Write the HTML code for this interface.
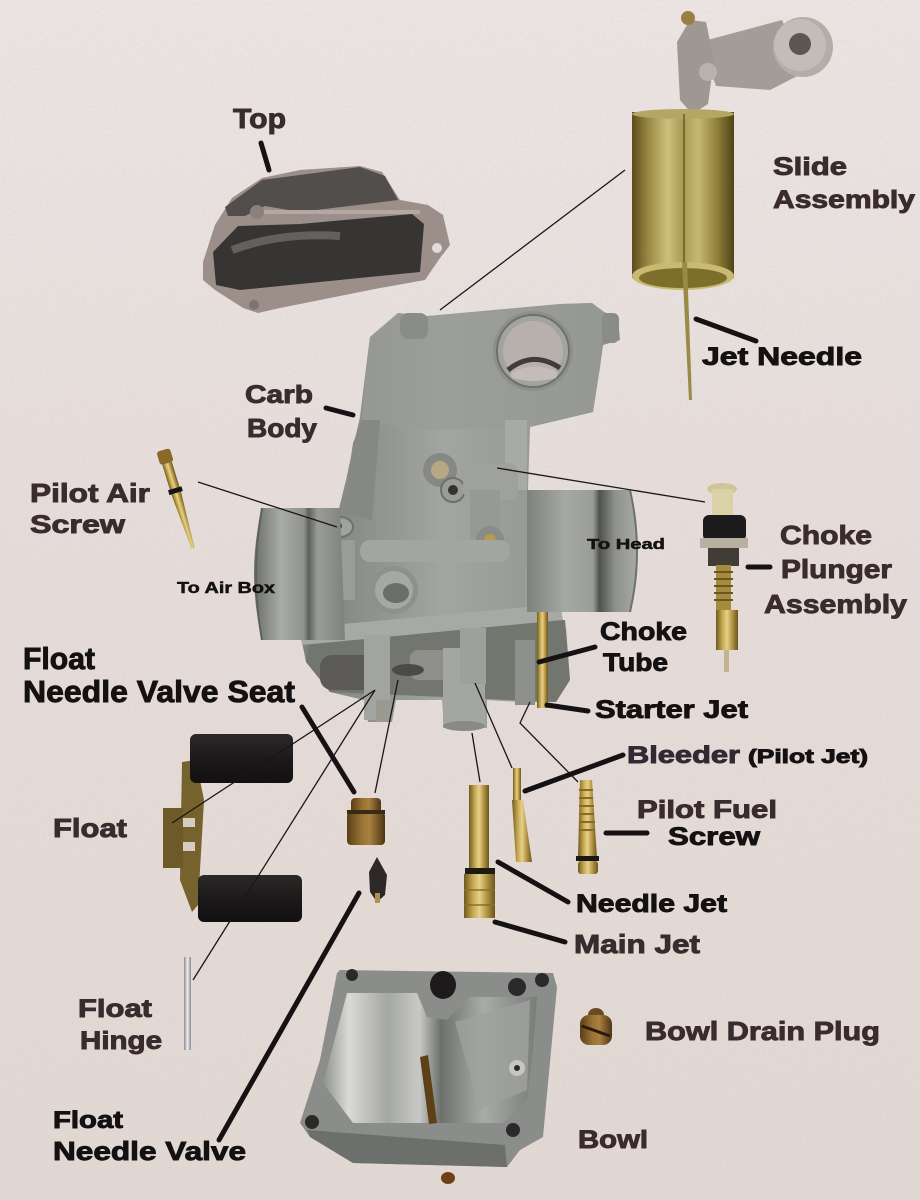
<!DOCTYPE html>
<html><head><meta charset="utf-8"><style>
html,body{margin:0;padding:0;background:#e8dfdc;}
svg{display:block;}
.t{font-family:"Liberation Sans",Arial,sans-serif;font-weight:bold;fill:#2c2224;stroke:#2c2224;stroke-width:0.9;}
.k{fill:#141112;stroke:#141112;}
.b{fill:#3a2b2e;stroke:#3a2b2e;}
.thin{stroke:#1a1616;stroke-width:1.3;fill:none;}
.thick{stroke:#161213;stroke-width:5;stroke-linecap:round;fill:none;}
</style></head><body>
<svg width="920" height="1200" viewBox="0 0 920 1200" xmlns="http://www.w3.org/2000/svg">
<defs>
<linearGradient id="bg" x1="0" y1="0" x2="0" y2="1"><stop offset="0" stop-color="#ede7e5"/><stop offset="0.5" stop-color="#e7dedb"/><stop offset="1" stop-color="#e4dad5"/></linearGradient>
<filter id="tex" x="0" y="0" width="100%" height="100%"><feTurbulence type="fractalNoise" baseFrequency="0.35" numOctaves="2" seed="3"/><feColorMatrix values="0 0 0 0 0.55  0 0 0 0 0.47  0 0 0 0 0.45  0 0 0 0.35 0"/></filter>
<linearGradient id="slide" x1="0" x2="1"><stop offset="0" stop-color="#5a4c1c"/><stop offset="0.15" stop-color="#978641"/><stop offset="0.35" stop-color="#cdbf7c"/><stop offset="0.5" stop-color="#a99a55"/><stop offset="0.65" stop-color="#c6b874"/><stop offset="0.85" stop-color="#8a7a36"/><stop offset="1" stop-color="#4e4318"/></linearGradient>
<linearGradient id="brass" x1="0" x2="1"><stop offset="0" stop-color="#6e5a1e"/><stop offset="0.3" stop-color="#c8ab52"/><stop offset="0.5" stop-color="#e6d18a"/><stop offset="0.75" stop-color="#b09040"/><stop offset="1" stop-color="#6a561c"/></linearGradient>
<linearGradient id="dbrass" x1="0" x2="1"><stop offset="0" stop-color="#5a3e18"/><stop offset="0.4" stop-color="#9a7434"/><stop offset="0.6" stop-color="#a88040"/><stop offset="1" stop-color="#4e3414"/></linearGradient>
<linearGradient id="body" x1="0" x2="1"><stop offset="0" stop-color="#7c7e7a"/><stop offset="0.45" stop-color="#a3a5a1"/><stop offset="1" stop-color="#8b8d89"/></linearGradient>
<linearGradient id="drumL" x1="0" x2="1"><stop offset="0" stop-color="#6c6e6a"/><stop offset="0.3" stop-color="#a9aba7"/><stop offset="0.55" stop-color="#8f918d"/><stop offset="0.6" stop-color="#5e605c"/><stop offset="0.7" stop-color="#9a9c98"/><stop offset="1" stop-color="#7f817d"/></linearGradient>
<linearGradient id="drumR" x1="0" x2="1"><stop offset="0" stop-color="#7f817d"/><stop offset="0.35" stop-color="#a6a8a4"/><stop offset="0.6" stop-color="#9a9c98"/><stop offset="0.66" stop-color="#4f514d"/><stop offset="0.8" stop-color="#8e908c"/><stop offset="1" stop-color="#a8aaa6"/></linearGradient>
<linearGradient id="flt" x1="0" y1="0" x2="0" y2="1"><stop offset="0" stop-color="#2c2929"/><stop offset="0.5" stop-color="#1b1919"/><stop offset="1" stop-color="#121010"/></linearGradient>
<linearGradient id="silver" x1="0" x2="1"><stop offset="0" stop-color="#8c8a8c"/><stop offset="0.5" stop-color="#f0eef0"/><stop offset="1" stop-color="#8a888a"/></linearGradient>
<linearGradient id="bowlin" x1="0" x2="1"><stop offset="0" stop-color="#8f918f"/><stop offset="0.12" stop-color="#d9dad8"/><stop offset="0.3" stop-color="#a5a7a5"/><stop offset="0.45" stop-color="#c8c9c7"/><stop offset="0.55" stop-color="#6e706e"/><stop offset="0.75" stop-color="#a9aba9"/><stop offset="1" stop-color="#7a7c7a"/></linearGradient>
</defs>

<!-- background -->
<rect width="920" height="1200" fill="url(#bg)"/>
<rect width="920" height="1200" filter="url(#tex)" opacity="0.5"/>

<!-- ===== TOP COVER ===== -->
<polygon points="203,262 215,225 232,198 262,178 300,170 360,166 382,172 400,200 428,205 443,215 450,245 440,258 425,280 380,288 280,308 258,313 243,308 215,290 203,280" fill="#9c8f89"/>
<polygon points="225,207 262,180 360,167 385,176 398,200 300,212 265,206 245,216 228,216" fill="#524e4c"/>
<polygon points="213,252 238,226 300,224 412,214 424,224 420,272 240,290 216,285" fill="#373434"/>
<path d="M232,250 Q280,232 340,236" stroke="#6f6b69" stroke-width="8" fill="none" opacity="0.8"/>
<path d="M262,212 L420,212" stroke="#b5a8a2" stroke-width="4"/>
<circle cx="257" cy="212" r="7" fill="#8a807c"/>
<circle cx="437" cy="248" r="5" fill="#e2dcd8"/>
<circle cx="254" cy="305" r="5" fill="#7a7472"/>

<!-- ===== SLIDE ASSEMBLY ===== -->
<polygon points="700,42 782,20 805,72 770,90 716,86" fill="#a29d96"/>
<polygon points="677,42 690,20 706,22 714,60 708,104 692,114 680,100" fill="#9d9891"/>
<circle cx="803" cy="47" r="30" fill="#b3aea8"/>
<circle cx="800" cy="45" r="26" fill="#c2bdb7"/>
<circle cx="800" cy="44" r="11" fill="#5c5754"/>
<circle cx="708" cy="72" r="9" fill="#b8b3ad"/>
<circle cx="688" cy="18" r="7" fill="#9a8040"/>
<rect x="632" y="112" width="102" height="166" fill="url(#slide)"/>
<ellipse cx="683" cy="114" rx="51" ry="5" fill="#b4a766"/>
<ellipse cx="683" cy="276" rx="51" ry="14" fill="#c9ba72"/>
<ellipse cx="683" cy="278" rx="44" ry="10" fill="#7e6e2c"/>
<line x1="684" y1="114" x2="684" y2="262" stroke="#6a5c24" stroke-width="1.5"/>
<polygon points="682,262 687,262 692,400 689,400" fill="#9a8a48"/>

<!-- ===== CARB BODY ===== -->
<polygon points="370,337 398,313 428,316 560,304 592,303 604,312 618,318 620,340 603,345 600,367 593,412 530,427 528,490 530,612 560,616 566,628 570,680 556,702 520,702 487,700 487,728 444,728 442,700 396,700 392,722 368,722 364,700 330,692 306,662 300,632 330,612 338,513 346,480 354,443 360,417 366,368" fill="url(#body)"/>
<polygon points="370,337 398,313 428,316 560,304 592,303 604,312 600,367 593,412 530,427 420,430 362,420 366,368" fill="#999b97" opacity="0.7"/>
<polygon points="343,513 353,443 362,420 380,420 372,520" fill="#868884"/>
<rect x="400" y="313" width="28" height="26" rx="8" fill="#8a8c88"/>
<rect x="602" y="313" width="17" height="30" rx="6" fill="#8a8c88"/>
<circle cx="533" cy="351" r="40" fill="#8d8f8b"/>
<circle cx="533" cy="351" r="36" fill="#a2a4a0" stroke="#6f716d" stroke-width="2"/>
<circle cx="533" cy="351" r="30" fill="#b8b0ad"/>
<path d="M508,370 Q533,350 560,368" stroke="#3f3d3c" stroke-width="5" fill="none"/>
<path d="M510,374 Q533,360 558,372 L556,378 Q533,384 512,378 Z" fill="#c4bcb9"/>
<rect x="505" y="420" width="22" height="70" fill="#a8aaa6"/>
<circle cx="440" cy="470" r="17" fill="#868884"/>
<circle cx="440" cy="470" r="9" fill="#b5a883"/>
<circle cx="453" cy="490" r="12" fill="#9a9c98" stroke="#6e706c" stroke-width="2"/>
<circle cx="453" cy="490" r="5" fill="#333"/>
<rect x="463" y="463" width="55" height="37" rx="10" fill="#9fa19d"/>
<rect x="470" y="490" width="30" height="60" fill="#979995"/>
<circle cx="490" cy="540" r="14" fill="#8a8c88"/>
<circle cx="490" cy="540" r="6" fill="#b89a50"/>
<ellipse cx="340" cy="527" rx="13" ry="10" fill="#a0a29e" stroke="#6f716d" stroke-width="2"/>
<ellipse cx="337" cy="526" rx="5" ry="4" fill="#3a3a38"/>
<rect x="330" y="540" width="25" height="60" fill="#9a9c98"/>
<rect x="360" y="540" width="150" height="22" rx="10" fill="#a3a5a1"/>
<circle cx="394" cy="590" r="24" fill="#8e908c"/>
<circle cx="394" cy="590" r="19" fill="#a6a8a4"/>
<ellipse cx="396" cy="593" rx="13" ry="10" fill="#6b6d69"/>
<rect x="525" y="570" width="35" height="50" fill="#9d9f9b"/>
<polygon points="310,632 565,620 570,680 556,702 330,692 306,662" fill="#73756f"/>
<polygon points="300,628 560,604 563,620 302,645" fill="#a7a9a5"/>
<rect x="320" y="655" width="55" height="35" rx="12" fill="#5c5a58"/>
<rect x="410" y="650" width="40" height="30" rx="8" fill="#8e8f8b"/>
<ellipse cx="408" cy="670" rx="16" ry="6" fill="#4b4a48"/>
<rect x="364" y="635" width="26" height="85" fill="#a2a4a0"/>
<rect x="376" y="700" width="14" height="22" fill="#9a9a90"/>
<rect x="443" y="648" width="42" height="80" fill="#a4a6a2"/>
<ellipse cx="464" cy="726" rx="21" ry="5" fill="#888a86"/>
<rect x="460" y="628" width="26" height="56" fill="#9ea09c"/>
<rect x="515" y="640" width="20" height="65" fill="#8d8f8b"/>
<rect x="537" y="608" width="11" height="100" fill="url(#brass)"/>
<path d="M262,508 L340,508 L345,640 L262,640 Q246,574 262,508 Z" fill="url(#drumL)"/>
<path d="M262,508 Q250,574 262,640" stroke="#5f615d" stroke-width="2" fill="none"/>
<path d="M527,490 L630,490 Q644,552 630,612 L527,612 Z" fill="url(#drumR)"/>
<path d="M630,490 Q644,552 630,612" stroke="#6f716d" stroke-width="2" fill="none"/>

<!-- ===== PILOT AIR SCREW ===== -->
<g transform="translate(163,450) rotate(-17)">
<rect x="-7" y="0" width="14" height="14" rx="3" fill="#8a6a28"/>
<rect x="-5" y="14" width="10" height="27" fill="url(#brass)"/>
<rect x="-7" y="40" width="14" height="5" fill="#151515"/>
<polygon points="-5,45 5,45 1.5,103 -1.5,103" fill="url(#brass)"/>
</g>

<!-- ===== CHOKE PLUNGER ===== -->
<ellipse cx="722" cy="489" rx="15" ry="6" fill="#cfc49a"/>
<rect x="712" y="489" width="21" height="28" fill="#dad1a6"/>
<rect x="703" y="515" width="43" height="26" rx="6" fill="#1d1b1b"/>
<rect x="700" y="538" width="48" height="10" fill="#b8b0a0"/>
<rect x="708" y="548" width="31" height="18" fill="#3f3d36"/>
<rect x="716" y="565" width="15" height="48" fill="#a48c3c"/>
<path d="M714,572 h19 M714,579 h19 M714,586 h19 M714,593 h19 M714,600 h19" stroke="#6a5620" stroke-width="2"/>
<rect x="716" y="610" width="22" height="40" fill="url(#brass)"/>
<rect x="724" y="650" width="5" height="22" fill="#c2b490"/>

<!-- ===== FLOATS ===== -->
<polygon points="182,762 196,760 204,800 198,905 192,912 180,880" fill="#76622c"/>
<rect x="163" y="808" width="20" height="60" fill="#6d5a28"/>
<rect x="183" y="818" width="12" height="9" fill="#d7ccc0"/>
<rect x="183" y="842" width="12" height="9" fill="#d7ccc0"/>
<rect x="190" y="734" width="103" height="49" rx="6" fill="url(#flt)"/>
<rect x="198" y="875" width="104" height="47" rx="6" fill="url(#flt)"/>

<!-- valve seat & needle -->
<rect x="351" y="798" width="30" height="16" rx="4" fill="url(#dbrass)"/>
<rect x="347" y="812" width="38" height="33" rx="4" fill="url(#dbrass)"/>
<rect x="347" y="810" width="38" height="4" fill="#3a2a14"/>
<polygon points="377,857 387,875 385,895 377,902 370,892 369,872" fill="#2e2828"/>
<rect x="375" y="893" width="5" height="10" fill="#b09050"/>

<!-- float hinge -->
<rect x="184" y="957" width="7" height="93" fill="url(#silver)"/>

<!-- ===== JETS ===== -->
<rect x="469" y="785" width="20" height="87" fill="url(#brass)"/>
<rect x="465" y="868" width="30" height="6" fill="#1e1a14"/>
<rect x="464" y="874" width="31" height="44" fill="url(#brass)"/>
<path d="M464,890 h31 M464,905 h31" stroke="#8a6f28" stroke-width="1.5"/>
<rect x="513" y="768" width="8" height="34" fill="url(#brass)"/>
<polygon points="512,800 523,800 532,862 516,862" fill="url(#brass)"/>
<polygon points="580,780 592,780 597,858 578,858" fill="url(#brass)"/>
<path d="M579,790 h14 M579,798 h14 M579,806 h15 M579,814 h15 M579,822 h16 M579,830 h16" stroke="#8a6a20" stroke-width="2"/>
<rect x="576" y="856" width="23" height="5" fill="#1a1714"/>
<rect x="578" y="861" width="20" height="13" rx="3" fill="url(#brass)"/>

<!-- ===== BOWL ===== -->
<polygon points="337,973 340,970 553,973 557,987 543,1137 520,1150 507,1167 353,1163 310,1137 300,1123 320,1060" fill="#8b8d8b"/>
<polygon points="307,1130 505,1145 507,1167 353,1163 310,1137" fill="#6d6f6d"/>
<polygon points="347,993 417,993 427,1017 447,1020 470,997 537,997 533,1050 527,1100 503,1123 353,1123 323,1083" fill="url(#bowlin)"/>
<polygon points="455,1022 530,1000 527,1090 480,1110" fill="#9fa19f" opacity="0.8"/>
<circle cx="352" cy="975" r="6" fill="#2a2a2a"/>
<ellipse cx="443" cy="985" rx="13" ry="14" fill="#1c1a1a"/>
<circle cx="517" cy="987" r="9" fill="#2a2a2a"/>
<circle cx="542" cy="980" r="7" fill="#2a2a2a"/>
<circle cx="312" cy="1122" r="7" fill="#2a2a2a"/>
<circle cx="513" cy="1130" r="7" fill="#2a2a2a"/>
<circle cx="517" cy="1068" r="8" fill="#c6c7c5"/>
<circle cx="517" cy="1068" r="3" fill="#2a2a2a"/>
<polygon points="420,1057 428,1055 437,1123 429,1124" fill="#5e4018"/>
<ellipse cx="448" cy="1178" rx="7" ry="6" fill="#6e3e18"/>

<!-- drain plug -->
<ellipse cx="596" cy="1015" rx="8" ry="7" fill="#6a4a20"/>
<rect x="580" y="1015" width="32" height="30" rx="9" fill="url(#dbrass)"/>
<path d="M582,1026 L610,1036" stroke="#2a1a0a" stroke-width="3"/>

<!-- ===== CONNECTORS ===== -->
<line class="thick" x1="261" y1="143" x2="269" y2="170"/>
<line class="thin" x1="625" y1="170" x2="440" y2="310"/>
<line class="thick" x1="696" y1="319" x2="756" y2="341"/>
<line class="thick" x1="326" y1="408" x2="353" y2="415"/>
<line class="thin" x1="198" y1="482" x2="337" y2="527"/>
<line class="thin" x1="497" y1="468" x2="705" y2="502"/>
<line class="thick" x1="748" y1="567" x2="770" y2="567"/>
<line class="thick" x1="539" y1="662" x2="595" y2="647"/>
<line class="thick" x1="547" y1="705" x2="588" y2="711"/>
<line class="thin" x1="472" y1="733" x2="480" y2="782"/>
<line class="thin" x1="475" y1="683" x2="512" y2="768"/>
<polyline class="thin" points="530,702 520,723 578,782"/>
<line class="thick" x1="525" y1="791" x2="623" y2="755"/>
<line class="thick" x1="606" y1="833" x2="647" y2="833"/>
<line class="thick" x1="498" y1="862" x2="568" y2="902"/>
<line class="thick" x1="495" y1="922" x2="565" y2="942"/>
<line class="thin" x1="375" y1="690" x2="172" y2="823"/>
<line class="thin" x1="375" y1="690" x2="193" y2="980"/>
<line class="thin" x1="398" y1="680" x2="375" y2="793"/>
<line class="thick" x1="302" y1="707" x2="354" y2="792"/>
<line class="thick" x1="359" y1="893" x2="219" y2="1140"/>

<!-- ===== LABELS ===== -->
<text class="t b" x="233" y="128" font-size="28" textLength="53" lengthAdjust="spacingAndGlyphs">Top</text>
<text class="t b" x="773" y="175" font-size="25" textLength="74" lengthAdjust="spacingAndGlyphs">Slide</text>
<text class="t b" x="773" y="208" font-size="25" textLength="142" lengthAdjust="spacingAndGlyphs">Assembly</text>
<text class="t k" x="702" y="365" font-size="25" textLength="160" lengthAdjust="spacingAndGlyphs">Jet Needle</text>
<text class="t b" x="245" y="403" font-size="25" textLength="68" lengthAdjust="spacingAndGlyphs">Carb</text>
<text class="t b" x="247" y="437" font-size="26" textLength="70" lengthAdjust="spacingAndGlyphs">Body</text>
<text class="t b" x="30" y="502" font-size="26" textLength="120" lengthAdjust="spacingAndGlyphs">Pilot Air</text>
<text class="t b" x="30" y="533" font-size="25" textLength="95" lengthAdjust="spacingAndGlyphs">Screw</text>
<text class="t k" x="177" y="593" font-size="16" textLength="98" lengthAdjust="spacingAndGlyphs" style="stroke-width:0.5">To Air Box</text>
<text class="t k" x="587" y="549" font-size="15" textLength="78" lengthAdjust="spacingAndGlyphs" style="stroke-width:0.5">To Head</text>
<text class="t b" x="780" y="544" font-size="26" textLength="92" lengthAdjust="spacingAndGlyphs">Choke</text>
<text class="t b" x="781" y="578" font-size="26" textLength="111" lengthAdjust="spacingAndGlyphs">Plunger</text>
<text class="t b" x="764" y="613" font-size="26" textLength="143" lengthAdjust="spacingAndGlyphs">Assembly</text>
<text class="t k" x="600" y="640" font-size="25" textLength="87" lengthAdjust="spacingAndGlyphs">Choke</text>
<text class="t k" x="603" y="671" font-size="25" textLength="65" lengthAdjust="spacingAndGlyphs">Tube</text>
<text class="t k" x="23" y="669" font-size="31" textLength="72" lengthAdjust="spacingAndGlyphs">Float</text>
<text class="t k" x="23" y="702" font-size="31" textLength="272" lengthAdjust="spacingAndGlyphs">Needle Valve Seat</text>
<text class="t k" x="595" y="718" font-size="25" textLength="153" lengthAdjust="spacingAndGlyphs">Starter Jet</text>
<text class="t" x="627" y="763" font-size="24" textLength="113" lengthAdjust="spacingAndGlyphs" style="fill:#302a35;stroke:#302a35">Bleeder</text>
<text class="t k" x="748" y="763" font-size="19" textLength="120" lengthAdjust="spacingAndGlyphs">(Pilot Jet)</text>
<text class="t b" x="637" y="818" font-size="25" textLength="140" lengthAdjust="spacingAndGlyphs">Pilot Fuel</text>
<text class="t k" x="668" y="845" font-size="25" textLength="92" lengthAdjust="spacingAndGlyphs">Screw</text>
<text class="t b" x="53" y="837" font-size="26" textLength="74" lengthAdjust="spacingAndGlyphs">Float</text>
<text class="t k" x="576" y="912" font-size="25" textLength="151" lengthAdjust="spacingAndGlyphs">Needle Jet</text>
<text class="t b" x="574" y="953" font-size="26" textLength="126" lengthAdjust="spacingAndGlyphs">Main Jet</text>
<text class="t b" x="78" y="1017" font-size="25" textLength="74" lengthAdjust="spacingAndGlyphs">Float</text>
<text class="t b" x="80" y="1049" font-size="25" textLength="82" lengthAdjust="spacingAndGlyphs">Hinge</text>
<text class="t b" x="645" y="1040" font-size="26" textLength="235" lengthAdjust="spacingAndGlyphs">Bowl Drain Plug</text>
<text class="t k" x="53" y="1128" font-size="24" textLength="70" lengthAdjust="spacingAndGlyphs">Float</text>
<text class="t k" x="53" y="1160" font-size="26" textLength="193" lengthAdjust="spacingAndGlyphs">Needle Valve</text>
<text class="t b" x="578" y="1148" font-size="25" textLength="70" lengthAdjust="spacingAndGlyphs">Bowl</text>
</svg>
</body></html>
